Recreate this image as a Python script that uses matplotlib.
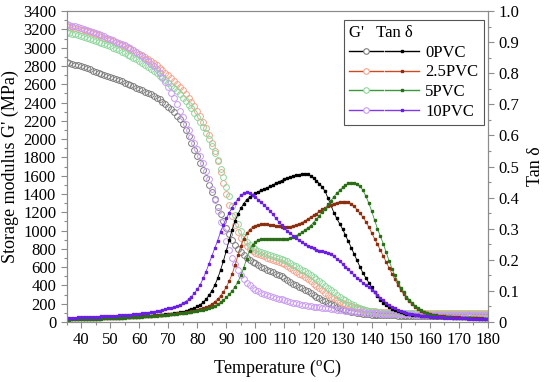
import numpy as np
import matplotlib
matplotlib.use('Agg')
import matplotlib.pyplot as plt
from matplotlib.ticker import MultipleLocator, FuncFormatter
from matplotlib.legend_handler import HandlerTuple

plt.rcParams['font.family'] = 'Liberation Serif'
plt.rcParams['mathtext.fontset'] = 'custom'
plt.rcParams['mathtext.rm'] = 'Liberation Serif'

temp = np.arange(35, 181)
labels = ['0PVC', '2.5PVC', '5PVC', '10PVC']

# storage modulus G' (MPa)
g_0 = [2840,2832,2823,2814,2805,2795,2784,2773,2762,2750,
       2738,2726,2714,2702,2690,2678,2666,2654,2642,2630,
       2618,2605,2592,2578,2564,2550,2535,2520,2504,2488,
       2472,2455,2435,2410,2384,2356,2325,2292,2256,2216,
       2165,2105,2035,1960,1885,1810,1735,1658,1580,1500,
       1420,1340,1260,1180,1100,1025,958,898,846,800,
       762,730,702,680,660,640,622,604,587,570,
       556,542,528,514,502,484,462,440,420,401,
       386,370,354,337,318,298,278,259,242,226,
       211,196,182,168,155,143,132,122,113,105,
       99,94,90,86,83,80,78,77,76,75,
       74,73,72,72,71,71,70,70,70,69,
       69,69,69,68,68,68,68,68,67,67,
       67,67,67,66,66,66,66,66,66,65,
       65,65,65,65,65,65]
g_25 = [3236,3229,3222,3214,3206,3197,3188,3178,3168,3157,
        3146,3134,3122,3110,3097,3084,3071,3057,3043,3029,
        3015,3000,2985,2970,2953,2935,2916,2896,2875,2853,
        2830,2806,2781,2755,2728,2700,2670,2639,2606,2571,
        2534,2495,2453,2408,2360,2308,2252,2190,2122,2046,
        1960,1865,1760,1645,1525,1400,1275,1160,1060,980,
        920,870,830,800,778,760,745,731,718,705,
        692,680,668,656,643,630,612,592,572,551,
        530,510,490,468,445,420,395,370,345,321,
        299,278,258,239,222,207,193,181,170,160,
        151,143,136,130,125,120,117,114,112,110,
        108,107,106,105,104,103,103,102,102,101,
        101,100,100,100,99,99,99,99,98,98,
        98,98,98,97,97,97,97,97,97,96,
        96,96,96,96,96,96]
g_5 = [3170,3162,3154,3145,3136,3127,3117,3107,3097,3087,
       3076,3065,3053,3041,3028,3015,3001,2987,2972,2957,
       2941,2925,2908,2890,2871,2852,2832,2811,2789,2767,
       2744,2720,2695,2669,2642,2614,2585,2555,2523,2490,
       2455,2418,2378,2335,2290,2240,2187,2130,2068,2002,
       1930,1852,1768,1678,1582,1480,1375,1270,1168,1075,
       995,930,880,845,818,798,782,768,755,743,
       732,721,710,699,688,676,662,646,628,610,
       592,574,556,536,515,493,470,446,422,397,
       372,348,324,300,278,257,237,218,200,183,
       168,155,143,133,124,117,112,108,105,103,
       101,100,99,98,97,96,96,95,95,94,
       94,94,93,93,93,93,92,92,92,92,
       92,92,92,92,92,92,92,91,91,91,
       91,91,91,91,91,91]
g_10 = [3255,3248,3240,3232,3224,3215,3205,3195,3184,3172,
        3160,3148,3136,3123,3109,3095,3081,3067,3053,3040,
        3027,3011,2995,2975,2953,2930,2906,2880,2853,2825,
        2796,2766,2725,2678,2625,2568,2508,2445,2380,2312,
        2242,2170,2098,2028,1960,1890,1815,1735,1650,1560,
        1455,1335,1210,1095,990,890,790,700,630,570,
        518,472,432,400,372,350,334,320,307,295,
        284,274,265,256,247,238,229,220,212,204,
        196,190,184,178,173,168,164,160,156,152,
        148,144,140,136,132,128,124,120,117,114,
        111,108,105,102,100,98,96,94,92,91,
        90,89,88,87,86,85,84,84,83,83,
        82,82,81,81,81,80,80,80,79,79,
        79,79,78,78,78,78,78,77,77,77,
        77,77,76,76,76,76]

# tan delta
tan_0 = [0.009,0.009,0.009,0.010,0.010,0.010,0.010,0.010,0.011,0.011,
         0.011,0.011,0.012,0.012,0.012,0.013,0.013,0.013,0.014,0.014,
         0.015,0.015,0.016,0.016,0.017,0.017,0.018,0.018,0.019,0.020,
         0.021,0.022,0.023,0.024,0.025,0.026,0.027,0.028,0.029,0.031,
         0.033,0.035,0.038,0.041,0.045,0.050,0.056,0.063,0.073,0.086,
         0.100,0.118,0.140,0.167,0.197,0.230,0.265,0.297,0.325,0.347,
         0.366,0.381,0.393,0.402,0.409,0.414,0.419,0.424,0.428,0.432,
         0.436,0.441,0.446,0.451,0.455,0.459,0.463,0.466,0.469,0.472,
         0.474,0.476,0.477,0.475,0.470,0.463,0.455,0.445,0.434,0.420,
         0.398,0.375,0.352,0.333,0.316,0.299,0.279,0.259,0.239,0.218,
         0.198,0.177,0.158,0.142,0.127,0.112,0.097,0.084,0.072,0.062,
         0.054,0.047,0.042,0.038,0.035,0.032,0.029,0.027,0.025,0.023,
         0.022,0.021,0.020,0.019,0.018,0.018,0.017,0.017,0.016,0.016,
         0.015,0.015,0.015,0.014,0.014,0.014,0.013,0.013,0.013,0.012,
         0.012,0.012,0.011,0.011,0.011,0.010]
tan_25 = [0.009,0.009,0.009,0.010,0.010,0.010,0.010,0.011,0.011,0.011,
          0.011,0.012,0.012,0.012,0.013,0.013,0.013,0.014,0.014,0.015,
          0.015,0.016,0.016,0.017,0.017,0.018,0.018,0.019,0.019,0.020,
          0.021,0.022,0.022,0.023,0.024,0.025,0.026,0.027,0.028,0.029,
          0.030,0.031,0.032,0.034,0.036,0.038,0.041,0.044,0.047,0.052,
          0.058,0.065,0.074,0.084,0.097,0.113,0.132,0.155,0.183,0.215,
          0.245,0.268,0.285,0.297,0.305,0.310,0.313,0.314,0.314,0.314,
          0.313,0.312,0.310,0.308,0.307,0.306,0.306,0.307,0.309,0.312,
          0.316,0.320,0.325,0.331,0.337,0.343,0.349,0.356,0.362,0.368,
          0.373,0.377,0.381,0.384,0.386,0.387,0.387,0.385,0.380,0.372,
          0.361,0.350,0.337,0.323,0.306,0.287,0.268,0.250,0.231,0.212,
          0.193,0.174,0.155,0.137,0.120,0.104,0.090,0.078,0.067,0.057,
          0.048,0.041,0.036,0.031,0.028,0.025,0.023,0.021,0.020,0.019,
          0.018,0.017,0.016,0.016,0.015,0.015,0.014,0.014,0.013,0.013,
          0.013,0.012,0.012,0.012,0.011,0.011]
tan_5 = [0.008,0.008,0.009,0.009,0.009,0.009,0.010,0.010,0.010,0.010,
         0.011,0.011,0.011,0.012,0.012,0.012,0.013,0.013,0.013,0.014,
         0.014,0.015,0.015,0.016,0.016,0.017,0.017,0.018,0.018,0.019,
         0.020,0.020,0.021,0.022,0.023,0.024,0.025,0.026,0.027,0.028,
         0.029,0.030,0.031,0.033,0.034,0.036,0.038,0.040,0.042,0.045,
         0.048,0.052,0.057,0.063,0.070,0.079,0.089,0.100,0.114,0.130,
         0.150,0.175,0.204,0.230,0.248,0.258,0.264,0.267,0.268,0.268,
         0.268,0.267,0.266,0.266,0.266,0.267,0.268,0.270,0.273,0.277,
         0.282,0.288,0.295,0.302,0.310,0.320,0.331,0.342,0.354,0.365,
         0.378,0.390,0.403,0.414,0.424,0.433,0.440,0.446,0.448,0.447,
         0.443,0.436,0.424,0.405,0.383,0.357,0.328,0.300,0.276,0.252,
         0.224,0.197,0.172,0.150,0.128,0.111,0.096,0.082,0.071,0.061,
         0.052,0.045,0.039,0.033,0.028,0.024,0.021,0.019,0.018,0.017,
         0.016,0.015,0.015,0.014,0.014,0.013,0.013,0.012,0.012,0.012,
         0.011,0.011,0.011,0.010,0.010,0.010]
tan_10 = [0.013,0.013,0.014,0.014,0.015,0.015,0.015,0.016,0.016,0.017,
          0.017,0.017,0.018,0.018,0.019,0.019,0.020,0.020,0.021,0.021,
          0.022,0.023,0.024,0.025,0.026,0.027,0.028,0.029,0.030,0.032,
          0.033,0.035,0.037,0.039,0.041,0.044,0.046,0.049,0.052,0.055,
          0.060,0.066,0.073,0.082,0.093,0.105,0.120,0.140,0.162,0.187,
          0.212,0.237,0.262,0.290,0.313,0.333,0.352,0.368,0.383,0.396,
          0.407,0.414,0.417,0.414,0.409,0.401,0.393,0.385,0.376,0.367,
          0.358,0.346,0.334,0.323,0.312,0.302,0.293,0.285,0.278,0.270,
          0.263,0.257,0.251,0.246,0.241,0.237,0.233,0.230,0.228,0.225,
          0.222,0.218,0.211,0.203,0.195,0.187,0.178,0.169,0.160,0.151,
          0.142,0.134,0.126,0.119,0.112,0.104,0.096,0.087,0.078,0.070,
          0.062,0.055,0.049,0.044,0.040,0.036,0.033,0.030,0.027,0.025,
          0.023,0.021,0.020,0.019,0.018,0.017,0.016,0.016,0.015,0.015,
          0.014,0.014,0.013,0.013,0.013,0.012,0.012,0.012,0.011,0.011,
          0.011,0.010,0.010,0.010,0.009,0.009]

g_all = [g_0, g_25, g_5, g_10]
tan_all = [tan_0, tan_25, tan_5, tan_10]
circle_col = ['#7c7c7c', '#f2a48c', '#8ed69c', '#c99bf2']
line_col = ['#000000', '#cc4a1e', '#3a9a3a', '#8338e8']
dot_col = ['#000000', '#8a3010', '#2c6e18', '#6a1ee6']

fig = plt.figure(figsize=(5.5, 3.82), dpi=100)
ax = fig.add_axes([0.121, 0.157, 0.766, 0.814])
ax2 = ax.twinx()

g_handles = []
t_handles = []
for i in range(4):
    ax.plot(temp, g_all[i], linestyle='none', marker='o', markersize=4.2,
            markerfacecolor='none', markeredgecolor=circle_col[i], markeredgewidth=0.7)
    ax2.plot(temp, tan_all[i], color=line_col[i], lw=0.6, marker='s',
             markersize=1.8, markerfacecolor=dot_col[i], markeredgecolor=dot_col[i])
    gh, = ax.plot([], [], color=line_col[i], lw=1.0, marker='o', markersize=4,
                  markerfacecolor='white', markeredgecolor=circle_col[i], markeredgewidth=0.8)
    th, = ax.plot([], [], color=line_col[i], lw=1.0, marker='s', markersize=2,
                  markerfacecolor=dot_col[i], markeredgecolor=dot_col[i])
    g_handles.append(gh)
    t_handles.append(th)

ax.set_xlim(35, 180)
ax.set_ylim(0, 3400)
ax2.set_ylim(0, 1.0)

ax.xaxis.set_major_locator(MultipleLocator(10))
ax.xaxis.set_minor_locator(MultipleLocator(5))
ax.yaxis.set_major_locator(MultipleLocator(200))
ax.yaxis.set_minor_locator(MultipleLocator(100))
ax2.yaxis.set_major_locator(MultipleLocator(0.1))
ax2.yaxis.set_minor_locator(MultipleLocator(0.05))
ax2.yaxis.set_major_formatter(FuncFormatter(lambda v, p: '0' if abs(v) < 1e-9 else '%.1f' % v))

spine_col = '#8c8c8c'
for a in (ax, ax2):
    for s in a.spines.values():
        s.set_color(spine_col)
        s.set_linewidth(0.8)
    a.tick_params(which='both', direction='out', colors=spine_col, labelcolor='black', labelsize=12)
    a.tick_params(which='major', length=4, width=0.8)
    a.tick_params(which='minor', length=2.5, width=0.8)
ax.tick_params(axis='x', pad=3)

ax.set_xlabel('Temperature ($^\\mathrm{o}$C)', fontsize=13, labelpad=7)
ax.set_ylabel("Storage modulus G' (MPa)", fontsize=13, labelpad=3)
ax2.set_ylabel('Tan δ', fontsize=13, labelpad=6)

leg = ax2.legend(handles=list(zip(g_handles, t_handles)), labels=labels,
                 handler_map={tuple: HandlerTuple(ndivide=None, pad=0.15)},
                 loc='upper left', bbox_to_anchor=(0.658, 0.971), borderaxespad=0,
                 fontsize=12, title="G'   Tan δ", title_fontsize=12, handlelength=4.2,
                 handletextpad=0.4, labelspacing=0.22, borderpad=0.3,
                 fancybox=False, framealpha=1, edgecolor='#555555', alignment='left')
leg.get_frame().set_linewidth(0.8)

fig.savefig('out.png', dpi=100)
